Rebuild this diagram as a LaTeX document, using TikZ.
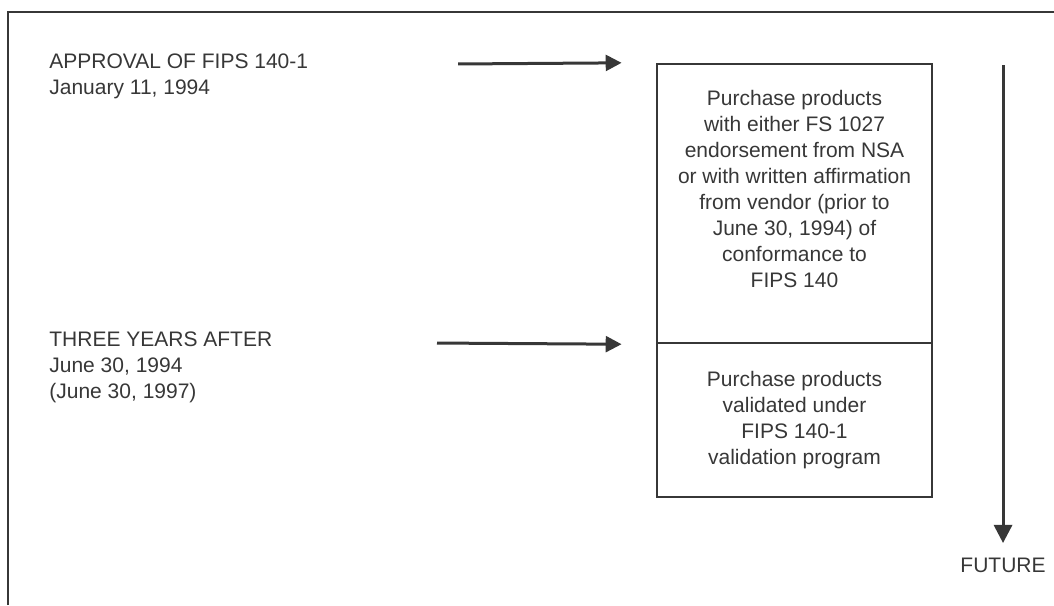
\documentclass[tikz,border=0pt]{standalone}
\usepackage{fontspec}
\setmainfont{Liberation Sans}
\usetikzlibrary{arrows.meta,positioning}
\definecolor{ink}{RGB}{55,55,55}

\begin{document}
\begin{tikzpicture}[>={Triangle[length=2.8mm,width=2.8mm]},
  every node/.style={inner sep=0pt, text=ink, font=\fontsize{10.5bp}{13bp}\selectfont},
  cell/.style={draw=ink, line width=1.4bp, minimum width=4.851cm},
  stage/.style={align=left, anchor=north west},
  flow/.style={draw=ink, line width=1.5bp, ->, shorten >=0.6cm}]
  \useasboundingbox (0,0) rectangle (18.591,10.672);
  % frame, open at right and bottom
  \draw[ink, line width=1.3bp] (0.141,0) |- (18.591,10.46);
  % stages on the left
  \node[stage] (approval) at (0.864,9.737) {APPROVAL OF FIPS 140-1\\January 11, 1994};
  \node[stage] (threeyears) at (0.864,4.833) {THREE YEARS AFTER\\June 30, 1994\\(June 30, 1997)};
  % what to purchase
  \node[cell, minimum height=4.922cm] (upper) at (14.014,7.082) {};
  \node[align=center, below=0.49cm of upper.north] (uppertext)
    {Purchase products\\with either FS 1027\\endorsement from NSA\\or with written affirmation\\from vendor (prior to\\June 30, 1994) of\\conformance to\\FIPS 140};
  \node[cell, minimum height=2.716cm, align=center] (lower) at (14.014,3.263)
    {Purchase products\\validated under\\FIPS 140-1\\validation program};
  % arrows into the box
  \coordinate (a1) at (8.079,9.543);
  \coordinate (a2) at (7.708,4.621);
  \draw[flow] (a1) -- (upper.north west);
  \draw[flow] (a2) -- (upper.south west);
  % time line
  \coordinate (t0) at (17.692,9.525);
  \coordinate (t1) at (17.692,1.094);
  \draw[ink, line width=1.5bp, -{Triangle[length=3.2mm,width=3.2mm]}] (t0) -- (t1);
  \node[below=0.26cm of t1] (future) {FUTURE};
\end{tikzpicture}
\end{document}
